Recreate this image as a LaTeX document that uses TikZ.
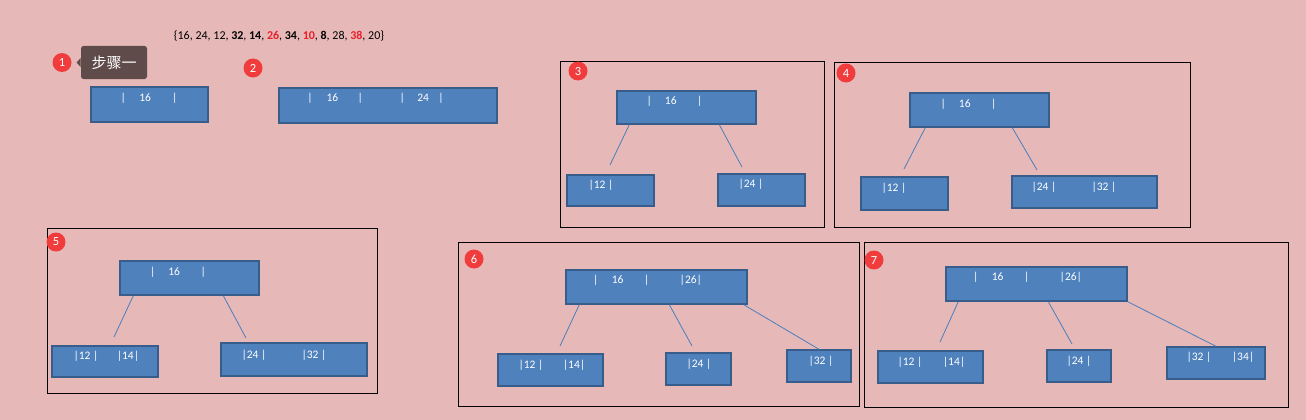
\documentclass[tikz,border=0pt]{standalone}
\usepackage{fontspec}
\setmainfont{Carlito}
\newfontfamily\cjk{Noto Sans CJK SC}
\usetikzlibrary{calc}

\definecolor{bgpink}{HTML}{E6B9B8}
\definecolor{boxblue}{HTML}{4F81BD}
\definecolor{boxedge}{HTML}{385D8A}
\definecolor{linkblue}{HTML}{4A7EBB}
\definecolor{badgered}{HTML}{F03C3C}
\definecolor{tipbrown}{HTML}{5E4B4A}
\definecolor{keyred}{HTML}{E8202A}

\begin{document}
\begin{tikzpicture}[
  x=1pt, y=-1pt, line width=0.8pt,
  bbox/.style={rectangle, draw=boxedge, fill=boxblue, line width=1.4pt, inner sep=0pt},
  key/.style={text=white, font=\fontsize{11.5}{13}\selectfont, inner sep=0pt},
  badge/.style={circle, fill=badgered, text=white, minimum size=19pt, inner sep=0pt, font=\fontsize{12.5}{13}\selectfont},
  link/.style={draw=linkblue, line width=0.8pt},
  frame/.style={draw=black, line width=0.8pt},
  tip/.style={rectangle, rounded corners=2.5pt, fill=tipbrown, text=white, minimum width=66, minimum height=33, font=\cjk\fontsize{15}{16}\selectfont}
]
  \fill[bgpink] (0,0) rectangle (1306,420);
  \useasboundingbox (0,0) rectangle (1306,420);

  % suite des cles a inserer
  \node[font=\fontsize{12}{13}\selectfont, inner sep=0pt] (seq) at (279,36)
    {\{16, 24, 12, \textbf{32}, \textbf{14}, \textcolor{keyred}{\textbf{26}}, \textbf{34}, \textcolor{keyred}{\textbf{10}}, \textbf{8}, 28, \textcolor{keyred}{\textbf{38}}, 20\}};

  % etape 1
  \node[badge] (s1) at (62,62.5) {1};
  \node[tip] (tip1) at (114,62.5) {步骤一};
  \fill[tipbrown] ([yshift=4.5pt]tip1.west) -- ([xshift=-4pt]tip1.west) -- ([yshift=-4.5pt]tip1.west) -- cycle;
  \node[bbox, minimum width=117, minimum height=35] (b1) at (149.5,104.5) {};
  \node[key] (k1) at (149,98.5) {|\hspace{13.5pt}16\hspace{21pt}|};

  % etape 2
  \node[badge] (s2) at (253,68) {2};
  \node[bbox, minimum width=218, minimum height=35] (b2) at (388,105.5) {};
  \node[key] (k2) at (375.5,98.5) {|\hspace{14pt}16\hspace{19.5pt}|\hspace{36.5pt}|\hspace{12.5pt}24\hspace{9.5pt}|};

  % etape 3
  \draw[frame] (560,61) rectangle (824,227);
  \node[badge] (s3) at (578,71) {3};
  \node[bbox, minimum width=139, minimum height=33] (t3) at (686.5,107.5) {};
  \node[bbox, minimum width=87, minimum height=31] (l3) at (610.5,190.5) {};
  \node[bbox, minimum width=87, minimum height=32] (r3) at (761.5,190) {};
  \node[key] (k3) at (674.5,101.5) {|\hspace{13pt}16\hspace{20.5pt}|};
  \node[key] (k3a) at (601,185.5) {|12 |};
  \node[key] (k3b) at (751,184.5) {|24 |};
  \coordinate (e3a) at (610,165);
  \coordinate (e3b) at (742,167);
  \draw[link] ([xshift=13pt]t3.south west) -- (e3a);
  \draw[link] ([xshift=103pt]t3.south west) -- (e3b);

  % etape 4
  \draw[frame] (834,62) rectangle (1190,227);
  \node[badge] (s4) at (846,73) {4};
  \node[bbox, minimum width=139, minimum height=34] (t4) at (979.5,110) {};
  \node[bbox, minimum width=87, minimum height=33] (l4) at (904.5,193.5) {};
  \node[bbox, minimum width=145, minimum height=32] (r4) at (1084.5,192) {};
  \node[key] (k4) at (968.5,104.5) {|\hspace{13pt}16\hspace{20.5pt}|};
  \node[key] (k4a) at (894,188.5) {|12 |};
  \node[key] (k4b) at (1044,187.5) {|24 |};
  \node[key] (k4c) at (1104,187.5) {|32 |};
  \coordinate (e4a) at (904,169);
  \coordinate (e4b) at (1037,170);
  \draw[link] ([xshift=16pt]t4.south west) -- (e4a);
  \draw[link] ([xshift=103pt]t4.south west) -- (e4b);

  % etape 5
  \draw[frame] (47,228) rectangle (377,393);
  \node[badge] (s5) at (56,242) {5};
  \node[bbox, minimum width=139, minimum height=34] (t5) at (189.5,278) {};
  \node[bbox, minimum width=106, minimum height=31] (l5) at (105,361.5) {};
  \node[bbox, minimum width=146, minimum height=33] (r5) at (294,359.5) {};
  \node[key] (k5) at (178,272.5) {|\hspace{13pt}16\hspace{20.5pt}|};
  \node[key] (k5a) at (86,356.5) {|12 |};
  \node[key] (k5b) at (128,356.5) {|14|};
  \node[key] (k5c) at (254,355.5) {|24 |};
  \node[key] (k5d) at (314,355.5) {|32 |};
  \coordinate (e5a) at (114,337);
  \coordinate (e5b) at (246,338);
  \draw[link] ([xshift=14pt]t5.south west) -- (e5a);
  \draw[link] ([xshift=104pt]t5.south west) -- (e5b);

  % etape 6
  \draw[frame] (458,242) rectangle (859,406);
  \node[badge] (s6) at (474,259) {6};
  \node[bbox, minimum width=181, minimum height=34] (t6) at (656.5,287) {};
  \node[bbox, minimum width=105, minimum height=32] (a6) at (550.5,370) {};
  \node[bbox, minimum width=65, minimum height=32] (b6) at (698.5,369) {};
  \node[bbox, minimum width=64, minimum height=32] (c6) at (819,366) {};
  \node[key] (k6) at (647.5,280.5) {|\hspace{13.5pt}16\hspace{20.5pt}|\hspace{30.5pt}|26|};
  \node[key] (k6a) at (531,365.5) {|12 |};
  \node[key] (k6b) at (574,365.5) {|14|};
  \node[key] (k6c) at (699,364.5) {|24 |};
  \node[key] (k6d) at (821,361.5) {|32 |};
  \coordinate (e6a) at (560,346);
  \coordinate (e6b) at (692,346);
  \draw[link] ([xshift=14pt]t6.south west) -- (e6a);
  \draw[link] ([xshift=104pt]t6.south west) -- (e6b);
  \draw[link] ([xshift=-4pt]t6.south east) -- (c6.north);

  % etape 7
  \draw[frame] (864,242) rectangle (1288,407);
  \node[badge] (s7) at (874,260) {7};
  \node[bbox, minimum width=181, minimum height=34] (t7) at (1036.5,284) {};
  \node[bbox, minimum width=105, minimum height=32] (a7) at (930.5,367) {};
  \node[bbox, minimum width=64, minimum height=32] (b7) at (1079,366) {};
  \node[bbox, minimum width=98, minimum height=32] (c7) at (1216,363) {};
  \node[key] (k7) at (1027.5,277.5) {|\hspace{13.5pt}16\hspace{20.5pt}|\hspace{30.5pt}|26|};
  \node[key] (k7a) at (910,362.5) {|12 |};
  \node[key] (k7b) at (954,362.5) {|14|};
  \node[key] (k7c) at (1079,361.5) {|24 |};
  \node[key] (k7d) at (1199,357.5) {|32 |};
  \node[key] (k7e) at (1243,357.5) {|34|};
  \coordinate (e7a) at (940,342);
  \coordinate (e7b) at (1072,344);
  \draw[link] ([xshift=13pt]t7.south west) -- (e7a);
  \draw[link] ([xshift=103pt]t7.south west) -- (e7b);
  \draw[link] (t7.south east) -- (c7.north);
\end{tikzpicture}
\end{document}
